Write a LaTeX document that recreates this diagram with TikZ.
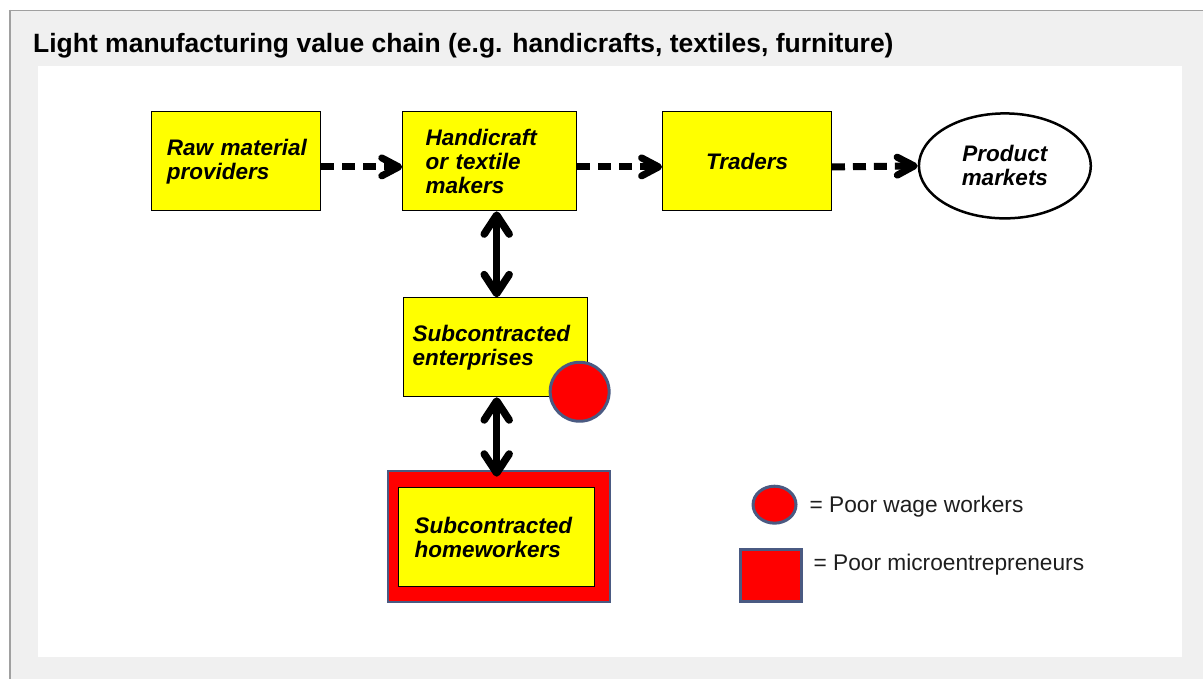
\documentclass[tikz,border=0pt]{standalone}
\usepackage{fontspec}
\setmainfont{Liberation Sans}
\usetikzlibrary{arrows.meta,shapes.geometric}
\definecolor{panelgray}{HTML}{F0F0F0}
\definecolor{framegray}{HTML}{A0A0A0}
\definecolor{boxyellow}{HTML}{FFFF00}
\definecolor{markred}{HTML}{FF0000}
\definecolor{markedge}{HTML}{4A5A82}
\definecolor{legendtext}{HTML}{1E1E1E}
\begin{document}
\begin{tikzpicture}[x=1pt,y=-1pt,
  boxtext/.style={font=\fontsize{22.5}{24}\selectfont\bfseries\itshape},
  ybox/.style={boxtext, draw=black, line width=1pt, fill=boxyellow, align=left, inner ysep=0pt, minimum height=99pt},
  markfill/.style={fill=markred, draw=markedge, line width=3pt},
  dasharrow/.style={line width=7pt, dash pattern=on 13pt off 8pt, -{Straight Barb[length=17pt,width=18pt,round]}},
  dblarrow/.style={line width=7.5pt, {Straight Barb[length=19pt,width=25pt,round]}-{Straight Barb[length=19pt,width=25pt,round]}},
  legend/.style={font=\fontsize{22.7}{24}\selectfont, text=legendtext, anchor=base west, inner sep=0pt}
]
% background and panels
\fill[white] (0,0) rectangle (1204,679);
\fill[panelgray] (9,10) rectangle (1204,679);
\draw[framegray, line width=1.5pt] (9,10.5) -- (1204,10.5);
\draw[framegray, line width=2pt] (10,10) -- (10,679);
\fill[white] (38,66) rectangle (1183,657);
\useasboundingbox (0,0) rectangle (1204,679);

% title
\node[anchor=base west, inner sep=0pt, font=\fontsize{26.5}{30}\selectfont\bfseries] (title) at (33,53)
  {Light manufacturing value chain (e.g. handicrafts, textiles, furniture)};

% top row
\node[ybox, minimum width=169pt, text width=147pt, inner xsep=11pt] (raw) at (236.5,161.5)
  {\hspace*{4pt}Raw material\\\hspace*{4pt}providers};
\node[ybox, minimum width=174pt, text width=128pt, inner xsep=23pt] (hand) at (490,161.5)
  {Handicraft\\or textile\\makers};
\node[ybox, minimum width=169pt, align=center, inner xsep=0pt] (traders) at (747.5,161.5)
  {Traders};
\node[ellipse, draw=black, line width=2.5pt, fill=white, boxtext, align=center,
      minimum width=172pt, minimum height=105pt, inner sep=0pt] (markets) at (1005.5,166)
  {Product\\markets};

% subcontracted enterprises
\node[ybox, minimum width=184pt, text width=166pt, inner xsep=9pt] (sub) at (496,347.5)
  {Subcontracted\\enterprises};
\node[circle, markfill, minimum size=59pt, inner sep=0pt] (subworkers) at (580,392) {};

% homeworkers
\node[rectangle, fill=markred, draw=markedge, line width=2pt, minimum width=222pt, minimum height=131pt] (homeouter) at (499,536.5) {};
\node[ybox, minimum width=196pt, text width=170pt, inner xsep=13pt] (home) at (497,537.5)
  {\hspace*{3pt}Subcontracted\\\hspace*{3pt}homeworkers};

% connectors
\draw[dasharrow] ([yshift=-5.5pt]raw.east) -- ([yshift=-5.5pt]hand.west);
\draw[dasharrow] ([yshift=-5.5pt]hand.east) -- ([yshift=-5.5pt]traders.west);
\draw[dasharrow] ([yshift=-5.5pt]traders.east) -- (markets.west);
\draw[dblarrow] ([xshift=1pt]sub.north |- hand.south) -- ([xshift=1pt]sub.north);
\draw[dblarrow, shorten >=-7pt] ([xshift=1pt]sub.south) -- ([xshift=1pt]sub.south |- homeouter.north);

% legend
\node[ellipse, markfill, minimum width=43pt, minimum height=37pt, inner sep=0pt] (legcircle) at (775,505) {};
\node[legend] (legcircletext) at (810,513) {= Poor wage workers};
\node[rectangle, markfill, minimum width=61pt, minimum height=52pt, inner sep=0pt] (legsquare) at (771,575.5) {};
\node[legend] (legsquaretext) at (814,571) {= Poor microentrepreneurs};
\end{tikzpicture}
\end{document}
